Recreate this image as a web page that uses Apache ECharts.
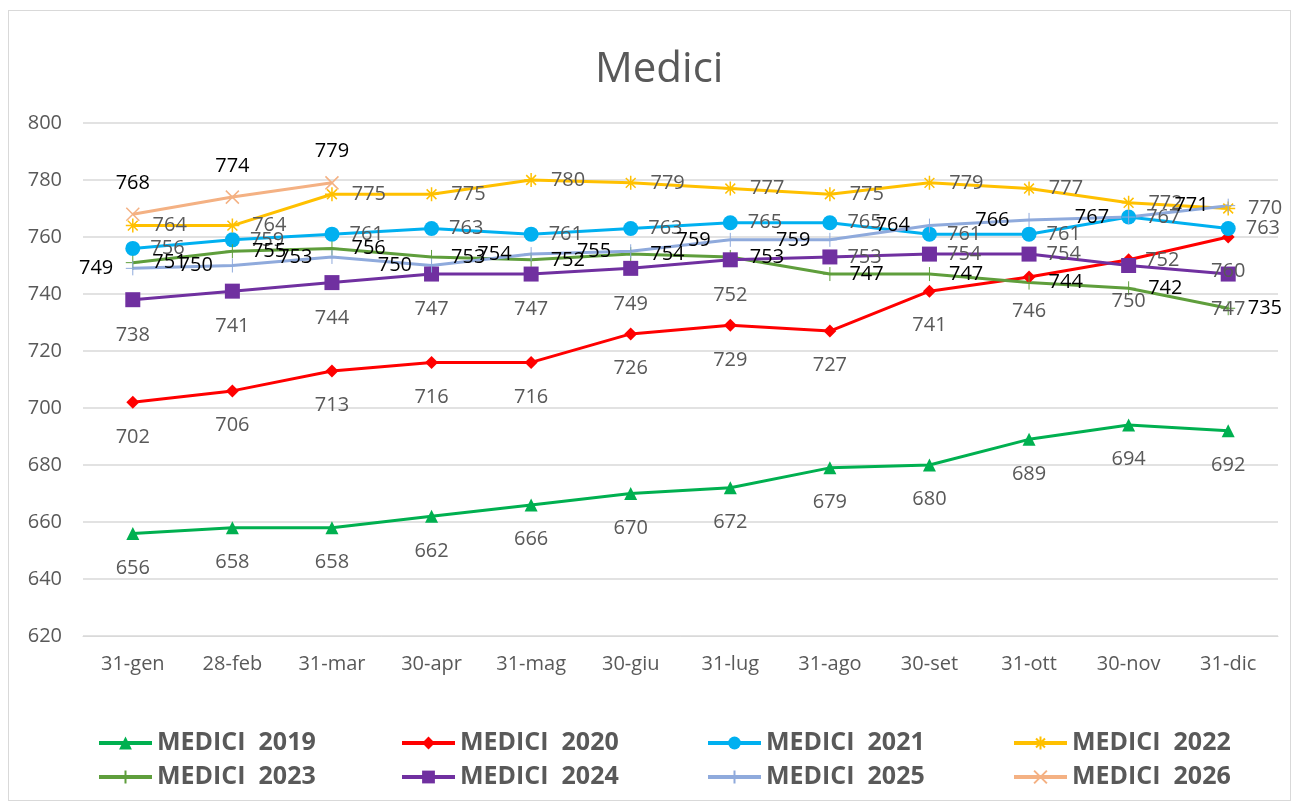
<!DOCTYPE html>
<html>
<head>
<meta charset="utf-8">
<script src="https://cdn.jsdelivr.net/npm/echarts@6/dist/echarts.min.js"></script>
<style>
  html, body { margin: 0; padding: 0; background: #fff; }
  #frame {
    position: absolute; left: 8px; top: 10px; width: 1281px; height: 789px;
    border: 1px solid #d9d9d9;
  }
  #chart { position: absolute; left: 0; top: 0; width: 1297px; height: 805px; }
</style>
</head>
<body>
<div id="frame"></div>
<div id="chart"></div>
<script>
/* ── Data ── */
const months = ['31-gen', '28-feb', '31-mar', '30-apr', '31-mag', '30-giu',
  '31-lug', '31-ago', '30-set', '31-ott', '30-nov', '31-dic']

const medici2019 = [656, 658, 658, 662, 666, 670, 672, 679, 680, 689, 694, 692]
const medici2020 = [702, 706, 713, 716, 716, 726, 729, 727, 741, 746, 752, 760]
const medici2021 = [756, 759, 761, 763, 761, 763, 765, 765, 761, 761, 767, 763]
const medici2022 = [764, 764, 775, 775, 780, 779, 777, 775, 779, 777, 772, 770]
const medici2023 = [751, 755, 756, 753, 752, 754, 753, 747, 747, 744, 742, 735]
const medici2024 = [738, 741, 744, 747, 747, 749, 752, 753, 754, 754, 750, 747]
const medici2025 = [749, 750, 753, 750, 754, 755, 759, 759, 764, 766, 767, 771]
const medici2026 = [768, 774, 779]

const yMin = 620
const yMax = 800
const yStep = 20

/* ── Marker shapes ── */
const PLUS = 'path://M5,0 L5,10 M0,5 L10,5'
const CROSS = 'path://M0,0 L10,10 M10,0 L0,10'
const ASTER = 'path://M5,0 L5,10 M0,5 L10,5 M1.5,1.5 L8.5,8.5 M8.5,1.5 L1.5,8.5'

const GREY = '#595959'
const FONT = 'Open Sans'

// labels that Excel moved off the series default position
const labelMoves = {
  'MEDICI  2020': { 10: 'right' },
  'MEDICI  2024': { 7: 'right', 8: 'right', 9: 'right' },
}

function makeSeries(name, data, color, opts) {
  const stroked = opts.stroked
  const moves = labelMoves[name] || {}
  return {
    name,
    type: 'line',
    data: data.map((v, i) => moves[i] ? { value: v, label: { position: moves[i], distance: 10 } } : v),
    symbol: opts.symbol,
    symbolSize: opts.size,
    symbolKeepAspect: true,
    showAllSymbol: true,
    lineStyle: { color, width: 3 },
    itemStyle: stroked
      ? { color: 'rgba(0,0,0,0)', borderColor: color, borderWidth: opts.bw || 1.5 }
      : { color, borderColor: color, borderWidth: 0 },
    label: {
      show: true,
      position: opts.pos,
      distance: opts.dist || 8,
      color: opts.labelColor || GREY,
      fontFamily: FONT,
      fontSize: 20,
    },
    z: opts.z || 2,
    animation: false,
  }
}

// one legend per column, two rows each, like the Excel layout
const legendCols = [
  { left: 97, data: ['MEDICI  2019', 'MEDICI  2023'] },
  { left: 400, data: ['MEDICI  2020', 'MEDICI  2024'] },
  { left: 706, data: ['MEDICI  2021', 'MEDICI  2025'] },
  { left: 1012, data: ['MEDICI  2022', 'MEDICI  2026'] },
]

const chart = echarts.init(document.getElementById('chart'))

chart.setOption({
  backgroundColor: 'transparent',
  title: {
    text: 'Medici',
    left: 590,
    top: 44,
    textStyle: { color: GREY, fontFamily: FONT, fontWeight: 'normal', fontSize: 42 },
  },
  grid: { left: 83, right: 19, top: 123, bottom: 169 },
  xAxis: {
    type: 'category',
    data: months,
    boundaryGap: true,
    axisLine: { show: true, lineStyle: { color: '#d9d9d9', width: 1 } },
    axisTick: { show: false },
    axisLabel: { color: GREY, fontFamily: FONT, fontSize: 20, margin: 18 },
  },
  yAxis: {
    type: 'value',
    min: yMin,
    max: yMax,
    interval: yStep,
    axisLine: { show: false },
    axisTick: { show: false },
    axisLabel: { color: GREY, fontFamily: FONT, fontSize: 20, margin: 21 },
    splitLine: { lineStyle: { color: '#d9d9d9', width: 1.5 } },
  },
  legend: legendCols.map((c) => ({
    left: c.left,
    top: 726,
    padding: 0,
    orient: 'vertical',
    data: c.data,
    itemWidth: 53,
    itemHeight: 16,
    itemGap: 0,
    lineStyle: { width: 4 },
    textStyle: {
      color: GREY, fontFamily: FONT, fontWeight: 'bold', fontSize: 25,
      lineHeight: 34,
    },
  })),
  series: [
    makeSeries('MEDICI  2019', medici2019, '#00b050', { symbol: 'triangle', size: 13, pos: 'bottom', dist: 18 }),
    makeSeries('MEDICI  2020', medici2020, '#ff0000', { symbol: 'diamond', size: 13, pos: 'bottom', dist: 18 }),
    makeSeries('MEDICI  2021', medici2021, '#00b0f0', { symbol: 'circle', size: 15, pos: 'right', dist: 10 }),
    makeSeries('MEDICI  2022', medici2022, '#ffc000', { symbol: ASTER, size: 14, pos: 'right', dist: 12, stroked: true, bw: 1.5 }),
    makeSeries('MEDICI  2023', medici2023, '#5f9e3c', { symbol: PLUS, size: 14, pos: 'right', dist: 12, stroked: true, bw: 1, labelColor: '#000' }),
    makeSeries('MEDICI  2024', medici2024, '#7030a0', { symbol: 'rect', size: 15, pos: 'bottom', dist: 18 }),
    makeSeries('MEDICI  2025', medici2025, '#8faadc', { symbol: PLUS, size: 14, pos: 'left', dist: 12, stroked: true, bw: 1, labelColor: '#000' }),
    makeSeries('MEDICI  2026', medici2026, '#f4b183', { symbol: CROSS, size: 13, pos: 'top', dist: 14, stroked: true, bw: 1.5, labelColor: '#000' }),
  ],
})

window.addEventListener('resize', () => chart.resize())
</script>
</body>
</html>
